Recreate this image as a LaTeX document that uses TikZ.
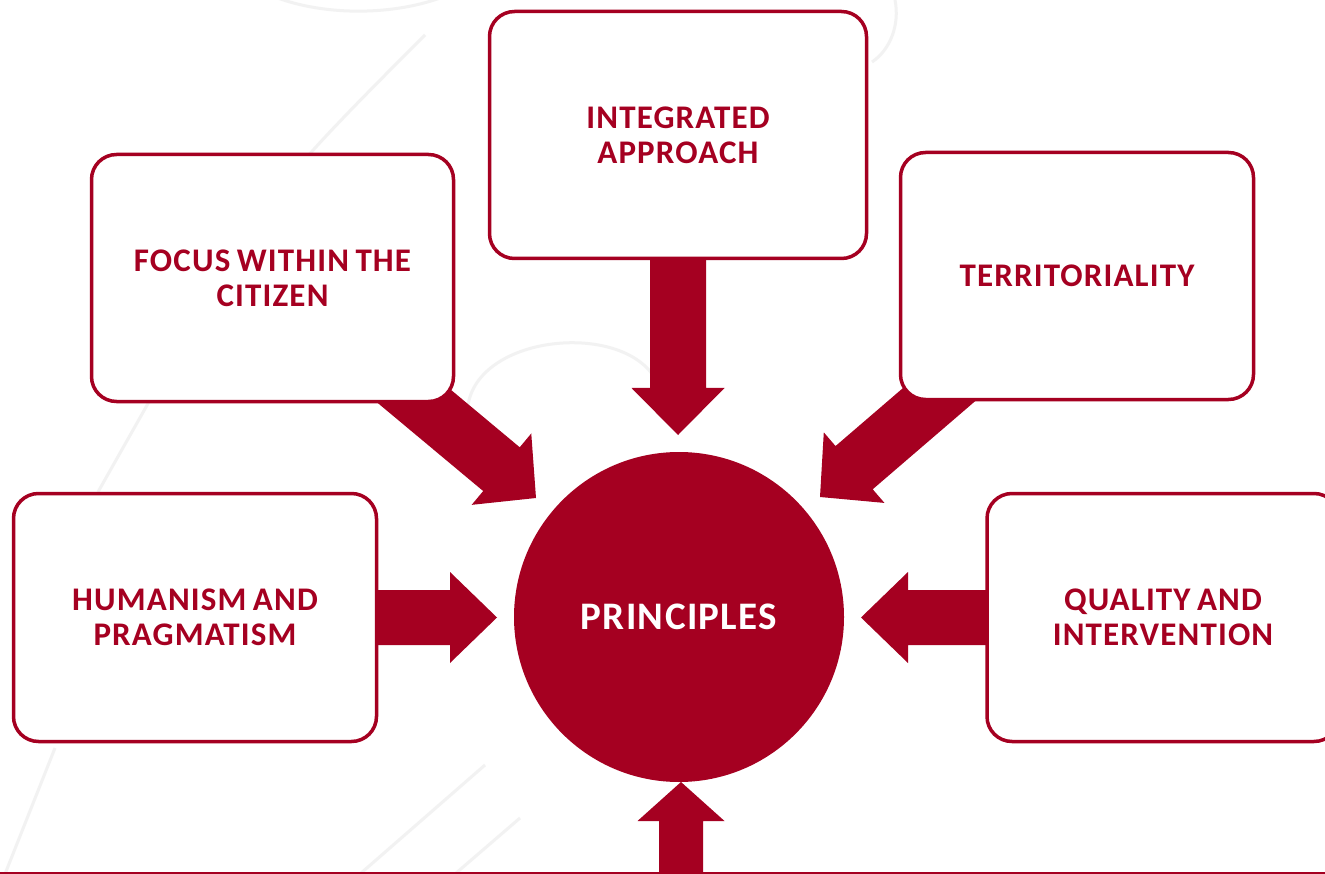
\documentclass[tikz,border=0pt]{standalone}
\usepackage{fontspec}
\setmainfont{Carlito}
\newfontfamily\labelfont[LetterSpace=3.5, WordSpace=0.75]{Carlito}
\usetikzlibrary{calc}
\definecolor{wine}{RGB}{165,0,33}
\definecolor{faint}{RGB}{242,242,242}
\newcommand{\blockarrow}[5]{%
  \path ($(#2)!#5pt!(#1)$) coordinate (hb);
  \fill[wine] (#2) -- ($(hb)!#4pt!90:(#2)$) -- ($(hb)!#3pt!90:(#2)$)
    -- ($(#1)!#3pt!90:(#2)$) -- ($(#1)!#3pt!-90:(#2)$)
    -- ($(hb)!#3pt!-90:(#2)$) -- ($(hb)!#4pt!-90:(#2)$) -- cycle;
}
\tikzset{
  box/.style={draw=wine, line width=3.5pt, fill=white, rounded corners=25pt,
    text=wine, align=center, inner sep=0pt,
    font=\labelfont\fontsize{33}{35}\selectfont\bfseries},
  hub/.style={circle, fill=wine, minimum size=330pt, inner sep=0pt, text=white,
    font=\labelfont\fontsize{39}{40}\selectfont\bfseries},
  bgline/.style={draw=faint, line width=3pt}
}
\begin{document}
\begin{tikzpicture}[x=1pt, y=-1pt]
\useasboundingbox (0,0) rectangle (1325,874);
\clip (0,0) rectangle (1325,874);
\fill[white] (0,0) rectangle (1325,874);
% faint background texture
\draw[bgline] (270,-5) .. controls (320,16) and (390,16) .. (440,-2);
\draw[bgline] (425,35) .. controls (380,80) and (330,130) .. (300,165);
\draw[bgline] (150,400) -- (98,492);
\draw[bgline] (55,748) -- (5,874);
\draw[bgline] (485,765) -- (360,874);
\draw[bgline] (520,818) -- (455,874);
\draw[bgline] (468,405) .. controls (480,330) and (640,320) .. (660,390);
\draw[bgline] (895,0) .. controls (900,25) and (890,50) .. (872,62);
% centres
\coordinate (cInteg) at (678,135);
\coordinate (cFocus) at (272.5,278);
\coordinate (cTerr) at (1077,276);
\coordinate (cHuman) at (195,617.5);
\coordinate (cQual) at (1163,617.5);
\coordinate (cHub) at (679,617);
% arrow tips
\coordinate (tTop) at (678,435);
\coordinate (tUL) at (536,498);
\coordinate (tUR) at (820,497);
\coordinate (tL) at (497,617.5);
\coordinate (tR) at (861,617.5);
\coordinate (tB) at (681,782);
\coordinate (sB) at (681,950);
% block arrows
\blockarrow{cInteg}{tTop}{28}{46.5}{47}
\blockarrow{cFocus}{tUL}{28.5}{46.5}{45}
\blockarrow{cTerr}{tUR}{28.5}{46.5}{45}
\blockarrow{cHuman}{tL}{27.5}{45.5}{47}
\blockarrow{cQual}{tR}{27.5}{45.5}{47}
\blockarrow{sB}{tB}{22}{43.5}{39}
% nodes
\node[box, minimum width=377pt, minimum height=247pt] (integ) at (cInteg) {INTEGRATED\\APPROACH};
\node[box, minimum width=362pt, minimum height=247pt] (focus) at (cFocus) {FOCUS WITHIN THE\\CITIZEN};
\node[box, minimum width=353pt, minimum height=247pt] (terr) at (cTerr) {TERRITORIALITY};
\node[box, minimum width=363pt, minimum height=248pt] (human) at (cHuman) {HUMANISM AND\\PRAGMATISM};
\node[box, minimum width=352pt, minimum height=248pt] (qual) at (cQual) {QUALITY AND\\INTERVENTION};
\node[hub] (hub) at (cHub) {PRINCIPLES};
% bottom rule
\draw[wine, line width=1.5pt] (0,873.2) -- (1325,873.2);
\end{tikzpicture}
\end{document}
